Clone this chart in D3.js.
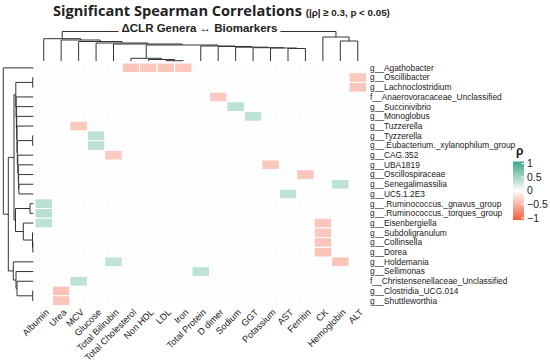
<!DOCTYPE html>
<html>
<head>
<script src="https://d3js.org/d3.v7.min.js"></script>
<style>
  body { margin: 0; background: #fff; }
  .lab { font-family: "Liberation Sans Narrow", "Arial Narrow", sans-serif; font-size: 8.4px; fill: #222; }
  .collab { font-size: 9.2px; }
  .tree { fill: none; stroke: #333; stroke-width: 1; }
</style>
</head>
<body>
<script>
// rows (genera) and columns (biomarkers), in the clustered order shown
var genera = ["g__Agathobacter", "g__Oscillibacter", "g__Lachnoclostridium", "f__Anaerovoracaceae_Unclassified",
  "g__Succinivibrio", "g__Monoglobus", "g__Tuzzerella", "g__Tyzzerella", "g__.Eubacterium._xylanophilum_group",
  "g__CAG.352", "g__UBA1819", "g__Oscillospiraceae", "g__Senegalimassilia", "g__UC5.1.2E3",
  "g__.Ruminococcus._gnavus_group", "g__.Ruminococcus._torques_group", "g__Eisenbergiella", "g__Subdoligranulum",
  "g__Collinsella", "g__Dorea", "g__Holdemania", "g__Sellimonas", "f__Christensenellaceae_Unclassified",
  "g__Clostridia_UCG.014", "g__Shuttleworthia"];
var biomarkers = ["Albumin", "Urea", "MCV", "Glucose", "Total Bilirubin", "Total Cholesterol", "Non HDL", "LDL",
  "Iron", "Total Protein", "D dimer", "Sodium", "GGT", "Potassium", "AST", "Ferritin", "CK", "Hemoglobin", "ALT"];

// significant correlations (everything else is blank)
var sigGenus = [0, 0, 0, 0, 1, 2, 3, 4, 5, 6, 7, 8, 9, 10, 11, 12, 13, 14, 15, 16, 16, 17, 18, 19, 20, 20, 21, 22, 23, 24];
var sigMarker = [5, 6, 7, 8, 18, 18, 10, 11, 12, 2, 3, 3, 4, 13, 15, 17, 14, 0, 0, 0, 16, 16, 16, 16, 4, 17, 9, 2, 1, 1];
var sigRho = [-0.35, -0.34, -0.35, -0.33, -0.34, -0.35, -0.33, 0.34, 0.33, -0.34, 0.33, 0.34, -0.33, -0.34, -0.35,
  0.33, 0.32, 0.35, 0.37, 0.34, -0.35, -0.34, -0.35, -0.36, 0.33, -0.36, 0.34, 0.33, -0.37, -0.36];

// dendrograms: [height, left, right]
var colTree = [2.95,
  [2.23, "Albumin", [2.1, "Urea", [1.95, "MCV", [1.8, "Glucose", [1.7, "Total Bilirubin",
    [1.6, [0.27, "Total Cholesterol", [0.15, "Non HDL", [0.03, "LDL", "Iron"]]],
      [1.5, "Total Protein", [1.45, "D dimer", [1.38, "Sodium", [1.33, "GGT", [1.3, "Potassium", [1.25, "AST", "Ferritin"]]]]]]]]]]]],
  [2.4, "CK", [2.0, "Hemoglobin", "ALT"]]];
var rowTree = [3.0, "g__Agathobacter",
  [2.5,
    [1.93,
      [1.75, [0.06, "g__Oscillibacter", "g__Lachnoclostridium"],
        [1.72, "f__Anaerovoracaceae_Unclassified", [1.69, "g__Succinivibrio", [1.66, "g__Monoglobus",
          [1.63, "g__Tuzzerella", [1.6, [0.06, "g__Tyzzerella", "g__.Eubacterium._xylanophilum_group"],
            [1.55, "g__CAG.352", [1.5, "g__UBA1819", [1.47, "g__Oscillospiraceae",
              [1.44, "g__Senegalimassilia", "g__UC5.1.2E3"]]]]]]]]]],
      [1.78, [0.33, "g__.Ruminococcus._gnavus_group", "g__.Ruminococcus._torques_group"],
        [1.0, "g__Eisenbergiella", [0.08, "g__Subdoligranulum", [0.05, "g__Collinsella", "g__Dorea"]]]]],
    [2.0, "g__Holdemania", [1.73, "g__Sellimonas", [1.63, "f__Christensenellaceae_Unclassified",
      [0.06, "g__Clostridia_UCG.014", "g__Shuttleworthia"]]]]]];

var legendTicks = [1, 0.5, 0, -0.5, -1];

var width = 550, height = 362;
var svg = d3.select("body").append("svg").attr("width", width).attr("height", height);

var x = d3.scaleBand().domain(biomarkers).range([35, 366.5]);
var y = d3.scaleBand().domain(genera).range([63, 305.5]);
var color = d3.scaleLinear().domain([-1, 0, 1]).range(["#f25c3c", "#ffffff", "#3aa683"]);

// background cells
var grid = svg.append("g");
genera.forEach(function(g) {
  grid.selectAll(null).data(biomarkers).enter().append("rect")
    .attr("x", function(m) { return x(m); })
    .attr("y", y(g))
    .attr("width", x.bandwidth())
    .attr("height", y.bandwidth())
    .attr("fill", "#fdfdfd")
    .attr("stroke", "#fff")
    .attr("stroke-width", 1);
});

var sig = sigRho.map(function(r, i) { return {g: genera[sigGenus[i]], m: biomarkers[sigMarker[i]], r: r}; });
svg.append("g").selectAll("rect").data(sig).enter().append("rect")
  .attr("x", function(d) { return x(d.m); })
  .attr("y", function(d) { return y(d.g); })
  .attr("width", x.bandwidth())
  .attr("height", y.bandwidth())
  .attr("fill", function(d) { return color(d.r); })
  .attr("stroke", "#fff")
  .attr("stroke-width", 1);

// dendrograms
function toNode(t) {
  return typeof t === "string" ? {name: t, h: 0} : {h: t[0], children: [toNode(t[1]), toNode(t[2])]};
}
function elbows(root) {
  var out = [];
  root.each(function(n) { if (n.children) out.push(n); });
  return out;
}

var colRoot = d3.hierarchy(toNode(colTree));
colRoot.eachAfter(function(n) {
  n.pos = n.children ? d3.mean(n.children, function(c) { return c.pos; }) : x(n.data.name) + x.bandwidth() / 2;
});
var hTop = d3.scaleLinear().domain([0, 3]).range([61, 31]);
svg.append("g").selectAll("path").data(elbows(colRoot)).enter().append("path")
  .attr("class", "tree")
  .attr("d", function(n) {
    var a = n.children[0], b = n.children[1];
    return "M" + a.pos + "," + hTop(a.data.h) + "V" + hTop(n.data.h) + "H" + b.pos + "V" + hTop(b.data.h);
  });

var rowRoot = d3.hierarchy(toNode(rowTree));
rowRoot.eachAfter(function(n) {
  n.pos = n.children ? d3.mean(n.children, function(c) { return c.pos; }) : y(n.data.name) + y.bandwidth() / 2;
});
var hLeft = d3.scaleLinear().domain([0, 3]).range([33.3, 3.3]);
svg.append("g").selectAll("path").data(elbows(rowRoot)).enter().append("path")
  .attr("class", "tree")
  .attr("d", function(n) {
    var a = n.children[0], b = n.children[1];
    return "M" + hLeft(a.data.h) + "," + a.pos + "H" + hLeft(n.data.h) + "V" + b.pos + "H" + hLeft(b.data.h);
  });

// labels
svg.append("g").selectAll("text").data(genera).enter().append("text")
  .attr("class", "lab")
  .attr("x", 370)
  .attr("y", function(g) { return y(g) + y.bandwidth() / 2; })
  .attr("dy", "0.35em")
  .text(function(g) { return g; });

svg.append("g").selectAll("text").data(biomarkers).enter().append("text")
  .attr("class", "lab collab")
  .attr("text-anchor", "end")
  .attr("transform", function(m) { return "translate(" + (x(m) + x.bandwidth() / 2 + 2) + ",309) rotate(-45)"; })
  .attr("dy", "0.6em")
  .text(function(m) { return m; });

// titles
var title = svg.append("text").attr("x", 53).attr("y", 16)
  .style("font-family", "'Open Sans', sans-serif").style("font-weight", "bold").style("font-size", "14.6px")
  .attr("fill", "#222");
title.append("tspan").text("Significant Spearman Correlations ");
title.append("tspan").style("font-family", "'Liberation Sans', Arial, sans-serif").style("font-size", "9.8px")
  .text("(|ρ| ≥ 0.3, p < 0.05)");

var sub = svg.append("text").attr("x", 199.5).attr("y", 32).attr("text-anchor", "middle")
  .style("font-family", "'Liberation Sans', Arial, sans-serif").style("font-weight", "bold").style("font-size", "11.5px")
  .attr("fill", "#222")
  .text("ΔCLR Genera ↔ Biomarkers");
var bb = sub.node().getBBox();
svg.insert("rect", function() { return sub.node(); })
  .attr("x", bb.x - 3).attr("y", bb.y).attr("width", bb.width + 6).attr("height", bb.height)
  .attr("fill", "#fff");

// legend
var defs = svg.append("defs");
var grad = defs.append("linearGradient").attr("id", "rhoGrad").attr("x1", 0).attr("x2", 0).attr("y1", 0).attr("y2", 1);
legendTicks.forEach(function(t, i) {
  grad.append("stop").attr("offset", (i / (legendTicks.length - 1) * 100) + "%").attr("stop-color", color(t));
});
var ly = d3.scaleLinear().domain([1, -1]).range([163.5, 218]);
svg.append("rect").attr("x", 513).attr("y", ly(1) - 2).attr("width", 11).attr("height", ly(-1) - ly(1) + 4)
  .attr("fill", "url(#rhoGrad)");
svg.append("g").selectAll("line").data(legendTicks).enter().append("line")
  .attr("x1", 521).attr("x2", 524)
  .attr("y1", function(t) { return ly(t); }).attr("y2", function(t) { return ly(t); })
  .attr("stroke", "#fff").attr("stroke-width", 1);
svg.append("g").selectAll("text").data(legendTicks).enter().append("text")
  .attr("x", 527)
  .attr("y", function(t) { return ly(t); })
  .attr("dy", "0.35em")
  .style("font-family", "'Liberation Sans', Arial, sans-serif").style("font-size", "10.5px")
  .attr("fill", "#222")
  .text(function(t) { return t < 0 ? "−" + Math.abs(t) : String(t); });
svg.append("text").attr("x", 516).attr("y", 155)
  .style("font-family", "'Liberation Sans', Arial, sans-serif").style("font-weight", "bold").style("font-size", "12px")
  .attr("fill", "#222")
  .text("ρ");
</script>
</body>
</html>
